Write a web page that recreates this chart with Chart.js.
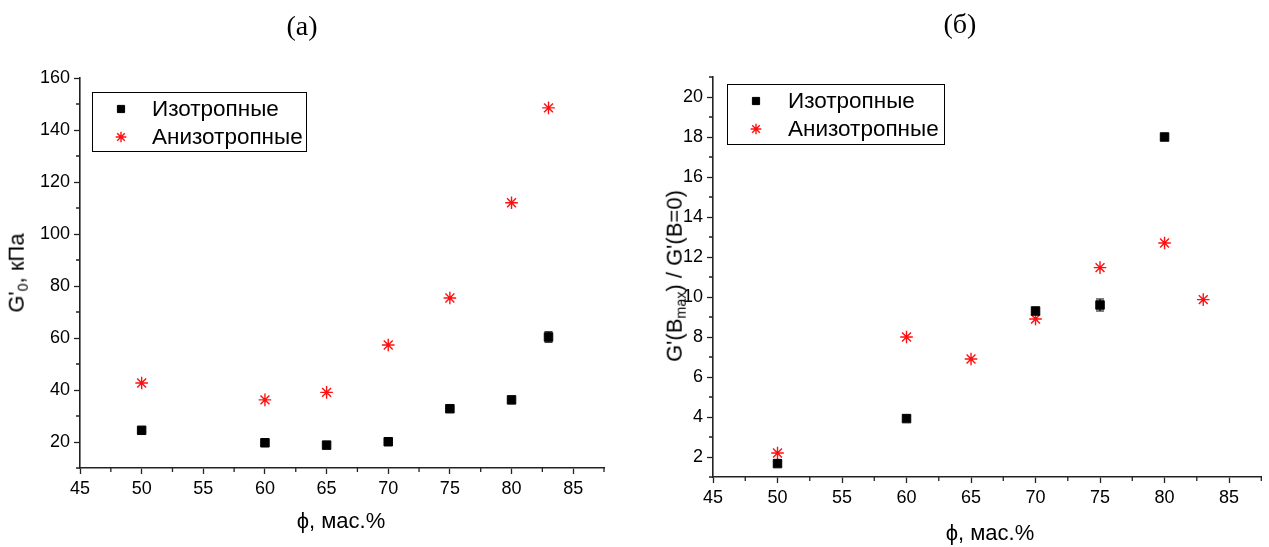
<!DOCTYPE html>
<html>
<head>
<meta charset="utf-8">
<script src="https://cdn.jsdelivr.net/npm/chart.js@4.4.1/dist/chart.umd.min.js"></script>
<style>
  html, body { margin: 0; padding: 0; background: #fff; }
  #wrap { position: relative; width: 1269px; height: 547px; overflow: hidden; }
  .panel { position: absolute; top: 0; height: 547px; }
  .lbl { position: absolute; transform: translate(-50%, -50%); white-space: nowrap;
         font-family: "Liberation Sans", Arial, sans-serif; font-size: 22px; color: #000; }
  .ttl { font-family: "Liberation Serif", "Times New Roman", serif; font-size: 28px; }
  .rot { transform: translate(-50%, -50%) rotate(-90deg); }
  sub { font-size: 0.65em; vertical-align: -0.25em; }
</style>
</head>
<body>
<div id="wrap">
  <div class="panel" style="left:0;width:634px"><canvas id="chartA"></canvas></div>
  <div class="panel" style="left:634px;width:635px"><canvas id="chartB"></canvas></div>

  <div class="lbl ttl" style="left:302px;top:26px">(а)</div>
  <div class="lbl ttl" style="left:960px;top:24px">(б)</div>

  <div class="lbl" style="left:341px;top:521px">ϕ, мас.%</div>
  <div class="lbl" style="left:990px;top:533px">ϕ, мас.%</div>

  <div class="lbl rot" style="left:17px;top:273px">G'<sub>0</sub>, кПа</div>
  <div class="lbl rot" style="left:675px;top:276px">G'(B<sub>max</sub>) / G'(B=0)</div>
</div>

<script>
// ---- data ----
const xTicks = [45, 50, 55, 60, 65, 70, 75, 80, 85];

// (а) G'0, kPa
const phiIsoA = [50, 60, 65, 70, 75, 80, 83];
const isoA = [24.5, 19.7, 18.8, 20.1, 32.8, 36.2, 60.4];
const isoErrA = [0, 0, 0, 0, 0, 0, 2.0];
const phiAnisoA = [50, 60, 65, 70, 75, 80, 83];
const anisoA = [42.7, 36.2, 39.1, 57.3, 75.4, 112.0, 148.5];
const yTicksA = [20, 40, 60, 80, 100, 120, 140, 160];

// (б) G'(Bmax) / G'(B=0)
const phiIsoB = [50, 60, 70, 75, 80];
const isoB = [1.67, 3.92, 9.3, 9.6, 18.0];
const isoErrB = [0, 0, 0, 0.3, 0];
const phiAnisoB = [50, 60, 65, 70, 75, 80, 83];
const anisoB = [2.2, 8.0, 6.9, 8.9, 11.47, 12.7, 9.87];
const yTicksB = [2, 4, 6, 8, 10, 12, 14, 16, 18, 20];

const seriesNames = ['Изотропные', 'Анизотропные'];

const AXIS_COLOR = '#222';
const TICK_FONT = { family: '"Liberation Sans", Arial, sans-serif', size: 18 };

function toPoints(xs, ys) {
    return xs.map((x, i) => ({ x: x, y: ys[i] }));
}

// minor ticks halfway between the major ones
function halfSteps(ticks, lo, hi) {
    const step = ticks[1] - ticks[0];
    const out = [];
    for (let v = ticks[0] - step / 2; v <= hi + 1e-9; v += step) {
        if (v >= lo - 1e-9) out.push(v);
    }
    return out;
}

const minorTicks = {
    id: 'minorTicks',
    afterDraw(chart, args, opts) {
        const ctx = chart.ctx;
        const xs = chart.scales.x, ys = chart.scales.y;
        ctx.save();
        ctx.strokeStyle = AXIS_COLOR;
        ctx.lineWidth = 1.3;
        ctx.beginPath();
        opts.x.forEach(v => {
            const px = xs.getPixelForValue(v);
            ctx.moveTo(px, xs.top);
            ctx.lineTo(px, xs.top + 4);
        });
        opts.y.forEach(v => {
            const py = ys.getPixelForValue(v);
            ctx.moveTo(ys.right, py);
            ctx.lineTo(ys.right - 4, py);
        });
        ctx.stroke();
        ctx.restore();
    }
};

const errorBars = {
    id: 'errorBars',
    afterDatasetsDraw(chart, args, opts) {
        const ctx = chart.ctx;
        const xs = chart.scales.x, ys = chart.scales.y;
        const ds = chart.data.datasets[0].data;
        ctx.save();
        ctx.strokeStyle = '#000';
        ctx.lineWidth = 1.2;
        opts.errors.forEach((e, i) => {
            if (!e) return;
            const px = xs.getPixelForValue(ds[i].x);
            const top = ys.getPixelForValue(ds[i].y + e);
            const bot = ys.getPixelForValue(ds[i].y - e);
            ctx.beginPath();
            ctx.moveTo(px, top); ctx.lineTo(px, bot);
            ctx.moveTo(px - 4, top); ctx.lineTo(px + 4, top);
            ctx.moveTo(px - 4, bot); ctx.lineTo(px + 4, bot);
            ctx.stroke();
        });
        ctx.restore();
    }
};

const boxLegend = {
    id: 'boxLegend',
    afterDraw(chart, args, opts) {
        const ctx = chart.ctx;
        ctx.save();
        ctx.strokeStyle = '#000';
        ctx.lineWidth = 1;
        ctx.strokeRect(opts.left + 0.5, opts.top + 0.5, opts.width, opts.height);
        ctx.font = '22.5px "Liberation Sans", Arial, sans-serif';
        ctx.textBaseline = 'middle';
        chart.data.datasets.forEach((d, i) => {
            const y = opts.rows[i];
            ctx.fillStyle = d.backgroundColor;
            ctx.strokeStyle = d.borderColor;
            ctx.lineWidth = d.borderWidth;
            Chart.helpers.drawPoint(ctx, { pointStyle: d.pointStyle, radius: d.pointRadius * 0.85, borderWidth: d.borderWidth }, opts.symbolX, y);
            ctx.fillStyle = '#000';
            ctx.fillText(d.label, opts.textX, y + 1);
        });
        ctx.restore();
    }
};

function createScatterChart(canvasId, setup) {
    const ctx = document.getElementById(canvasId);
    if (!ctx) return;

    new Chart(ctx, {
        type: 'scatter',
        data: {
            datasets: [{
                label: seriesNames[0],
                data: toPoints(setup.isoX, setup.isoY),
                pointStyle: 'rect',
                pointRadius: 6,
                backgroundColor: '#000',
                borderColor: '#000',
                borderWidth: 1
            }, {
                label: seriesNames[1],
                data: toPoints(setup.anisoX, setup.anisoY),
                pointStyle: 'star',
                pointRadius: 6.3,
                backgroundColor: '#ff0000',
                borderColor: '#ff1010',
                borderWidth: 1.4
            }]
        },
        options: {
            responsive: true,
            maintainAspectRatio: false,
            animation: false,
            layout: { padding: setup.padding },
            plugins: {
                legend: { display: false },
                tooltip: { enabled: false },
                minorTicks: {
                    x: halfSteps(xTicks, setup.xMin, setup.xMax),
                    y: halfSteps(setup.yTicks, setup.yMin, setup.yMax)
                },
                errorBars: { errors: setup.isoErr },
                boxLegend: setup.legend
            },
            scales: {
                x: {
                    type: 'linear',
                    min: setup.xMin,
                    max: setup.xMax,
                    afterBuildTicks: s => { s.ticks = xTicks.map(v => ({ value: v })); },
                    afterFit: s => { s.height = setup.xHeight; },
                    border: { color: AXIS_COLOR, width: 1.6 },
                    grid: { drawOnChartArea: false, tickLength: 6, tickColor: AXIS_COLOR, tickWidth: 1.3 },
                    ticks: { color: '#000', font: TICK_FONT, padding: 4, maxRotation: 0 }
                },
                y: {
                    type: 'linear',
                    min: setup.yMin,
                    max: setup.yMax,
                    afterBuildTicks: s => { s.ticks = setup.yTicks.map(v => ({ value: v })); },
                    afterFit: s => { s.width = setup.yWidth; },
                    border: { color: AXIS_COLOR, width: 1.6 },
                    grid: { drawOnChartArea: false, tickLength: 6, tickColor: AXIS_COLOR, tickWidth: 1.3 },
                    ticks: { color: '#000', font: TICK_FONT, padding: 4 }
                }
            }
        },
        plugins: [minorTicks, errorBars, boxLegend]
    });
}

createScatterChart('chartA', {
    isoX: phiIsoA, isoY: isoA, isoErr: isoErrA,
    anisoX: phiAnisoA, anisoY: anisoA,
    xMin: 45, xMax: 87.5,
    yMin: 10, yMax: 160, yTicks: yTicksA,
    padding: { left: 0, right: 30, top: 78, bottom: 0 },
    yWidth: 80, xHeight: 79,
    legend: { left: 92, top: 92, width: 214, height: 59, symbolX: 121, textX: 152, rows: [109, 137] }
});

createScatterChart('chartB', {
    isoX: phiIsoB, isoY: isoB, isoErr: isoErrB,
    anisoX: phiAnisoB, anisoY: anisoB,
    xMin: 45, xMax: 87.5,
    yMin: 1, yMax: 21, yTicks: yTicksB,
    padding: { left: 0, right: 2, top: 77, bottom: 0 },
    yWidth: 79, xHeight: 70,
    legend: { left: 93, top: 84, width: 217, height: 60, symbolX: 122, textX: 154, rows: [101, 129] }
});
</script>
</body>
</html>
